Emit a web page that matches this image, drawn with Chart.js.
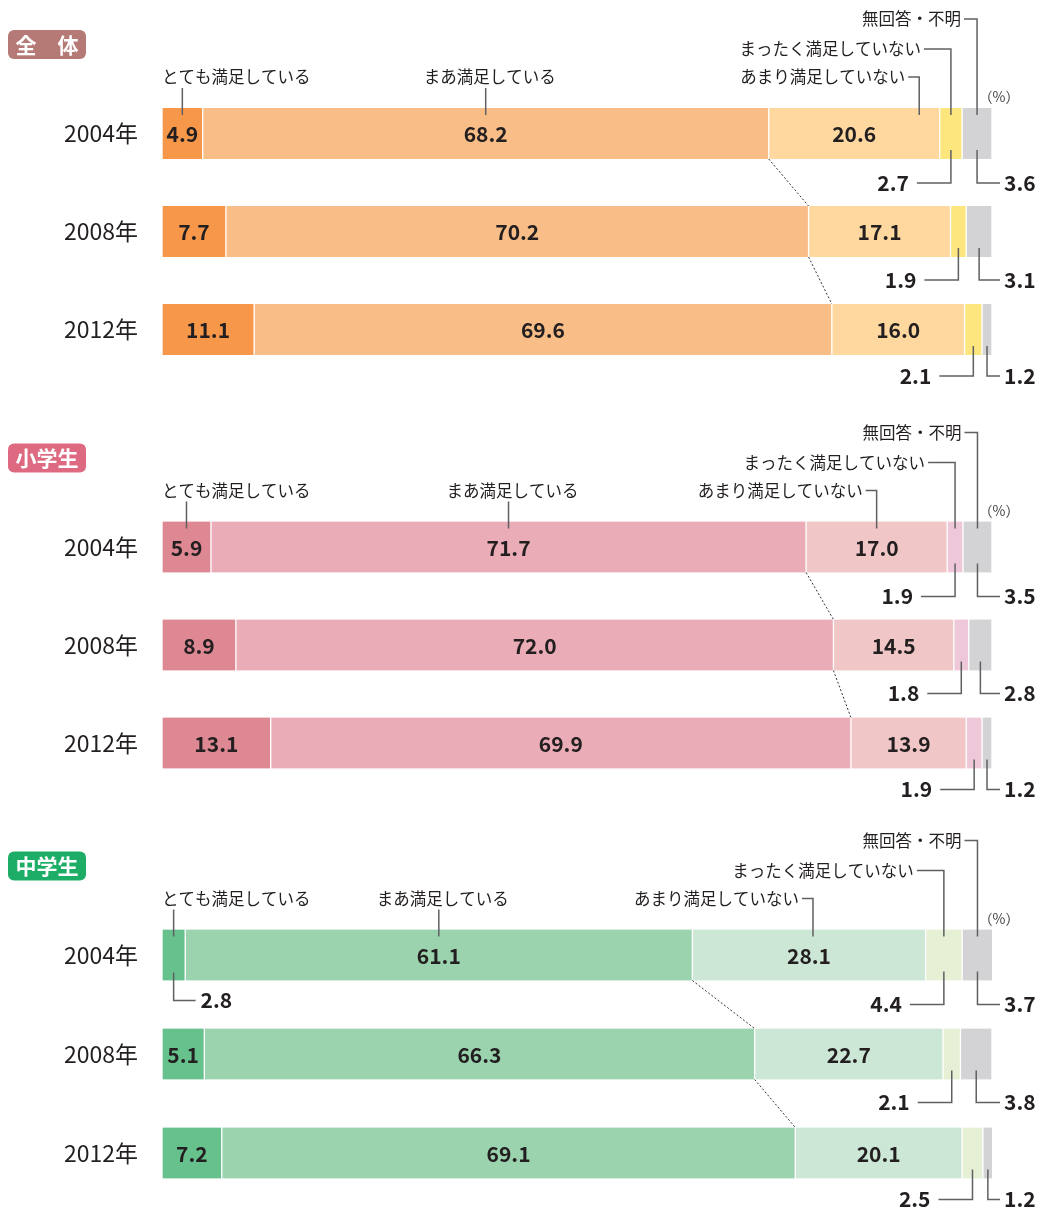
<!DOCTYPE html>
<html>
<head>
<meta charset="utf-8">
<script src="https://cdn.jsdelivr.net/npm/chart.js@4.4.1/dist/chart.umd.min.js"></script>
<style>
  body { margin: 0; background: #fff; width: 1037px; height: 1208px; position: relative; overflow: hidden; }
  .panel { position: absolute; left: 0; width: 1037px; }
</style>
</head>
<body>
<div class="panel" style="top:0px"><canvas id="c0" width="1037" height="410"></canvas></div>
<div class="panel" style="top:410px"><canvas id="c1" width="1037" height="405"></canvas></div>
<div class="panel" style="top:815px"><canvas id="c2" width="1037" height="393"></canvas></div>
<script>
// survey years and answer categories
const years = ['2004年', '2008年', '2012年'];
const categories = ['とても満足している', 'まあ満足している', 'あまり満足していない', 'まったく満足していない', '無回答・不明'];
const panelTitles = ['全　体', '小学生', '中学生'];

// 全体
const allVery = [4.9, 7.7, 11.1];
const allSomewhat = [68.2, 70.2, 69.6];
const allNotVery = [20.6, 17.1, 16.0];
const allNotAtAll = [2.7, 1.9, 2.1];
const allNoAnswer = [3.6, 3.1, 1.2];

// 小学生
const elemVery = [5.9, 8.9, 13.1];
const elemSomewhat = [71.7, 72.0, 69.9];
const elemNotVery = [17.0, 14.5, 13.9];
const elemNotAtAll = [1.9, 1.8, 1.9];
const elemNoAnswer = [3.5, 2.8, 1.2];

// 中学生
const juniorVery = [2.8, 5.1, 7.2];
const juniorSomewhat = [61.1, 66.3, 69.1];
const juniorNotVery = [28.1, 22.7, 20.1];
const juniorNotAtAll = [4.4, 2.1, 2.5];
const juniorNoAnswer = [3.7, 3.8, 1.2];

const FONT = '"Noto Sans CJK JP", "Noto Sans", sans-serif';
const TEXT = '#231f20';
const LEAD = '#5f6062';

const panels = [
    { id: 'c0', series: [allVery, allSomewhat, allNotVery, allNotAtAll, allNoAnswer],
      colors: ['#f7974a', '#f9bd87', '#fed89f', '#fde67e', '#d3d3d5'], badge: '#b67a76',
      padTop: 84.5, padBottom: 31.5, notVeryShift: 65 },
    { id: 'c1', series: [elemVery, elemSomewhat, elemNotVery, elemNotAtAll, elemNoAnswer],
      colors: ['#dd8892', '#eaacb6', '#f0c6c6', '#eec7d8', '#d3d3d5'], badge: '#dd6a80',
      padTop: 88, padBottom: 23, notVeryShift: 0 },
    { id: 'c2', series: [juniorVery, juniorSomewhat, juniorNotVery, juniorNotAtAll, juniorNoAnswer],
      colors: ['#67c18d', '#9bd3ae', '#cde7d6', '#e6f0d5', '#d3d3d5'], badge: '#1dad66',
      padTop: 90.5, padBottom: 5.5, notVeryShift: 4 }
];

// gap between bar bottom and the small value labels, per row
const belowGap = [24, 23, 21];

function line(ctx, pts) {
    ctx.beginPath();
    ctx.moveTo(pts[0][0], pts[0][1]);
    for (let i = 1; i < pts.length; i++) ctx.lineTo(pts[i][0], pts[i][1]);
    ctx.stroke();
}

// labels, leader lines, connectors and the title badge
const annot = {
    id: 'annot',
    afterDatasetsDraw(chart, args, opts) {
        const ctx = chart.ctx;
        const area = chart.chartArea;
        const seg = (d, r) => {
            const e = chart.getDatasetMeta(d).data[r];
            const p = e.getProps(['x', 'base', 'y', 'height'], true);
            return { l: Math.min(p.x, p.base), r: Math.max(p.x, p.base), c: (p.x + p.base) / 2,
                     t: p.y - p.height / 2, b: p.y + p.height / 2, y: p.y };
        };
        ctx.save();

        // badge
        const t0 = seg(0, 0).t;
        ctx.fillStyle = opts.badge;
        ctx.beginPath();
        ctx.roundRect(8, t0 - 78, 78, 29, 6);
        ctx.fill();
        ctx.fillStyle = '#fff';
        ctx.font = 'bold 21px ' + FONT;
        ctx.textAlign = 'center';
        ctx.textBaseline = 'middle';
        ctx.fillText(opts.title, 47, t0 - 63);

        // dotted connectors between "まあ満足" boundaries
        ctx.strokeStyle = '#333';
        ctx.lineWidth = 1;
        ctx.setLineDash([2, 2]);
        for (let r = 0; r < 2; r++) {
            const a = seg(1, r), b = seg(1, r + 1);
            line(ctx, [[a.r, a.b], [b.r, b.t]]);
        }
        ctx.setLineDash([]);

        // category labels above first bar
        ctx.strokeStyle = LEAD;
        ctx.lineWidth = 1.5;
        ctx.fillStyle = TEXT;
        ctx.font = '16.5px ' + FONT;
        ctx.textBaseline = 'middle';
        const s0 = seg(0, 0), s1 = seg(1, 0), s2 = seg(2, 0), s3 = seg(3, 0), s4 = seg(4, 0);
        ctx.textAlign = 'left';
        ctx.fillText(categories[0], area.left, t0 - 31);
        line(ctx, [[s0.c, t0 - 20], [s0.c, t0 + 7]]);
        ctx.textAlign = 'center';
        ctx.fillText(categories[1], s1.c + 4, t0 - 31);
        line(ctx, [[s1.c, t0 - 20], [s1.c, t0 + 7]]);
        ctx.textAlign = 'right';
        const x2 = s2.c + opts.notVeryShift;
        ctx.fillText(categories[2], x2 - 14, t0 - 31);
        line(ctx, [[x2 - 11, t0 - 31], [x2, t0 - 31], [x2, t0 + 7]]);
        ctx.fillText(categories[3], s3.c - 30, t0 - 59);
        line(ctx, [[s3.c - 27, t0 - 59], [s3.c, t0 - 59], [s3.c, t0 + 7]]);
        ctx.fillText(categories[4], s4.c - 16, t0 - 89);
        line(ctx, [[s4.c - 13, t0 - 89], [s4.c, t0 - 89], [s4.c, t0 + 7]]);
        ctx.font = '14px ' + FONT;
        ctx.fillStyle = '#444';
        ctx.textAlign = 'center';
        ctx.fillText('（%）', area.right + 7, t0 - 11);

        // value labels
        ctx.font = 'bold 21px ' + FONT;
        ctx.fillStyle = TEXT;
        chart.data.datasets.forEach((ds, d) => {
            ds.data.forEach((v, r) => {
                const s = seg(d, r);
                const txt = v.toFixed(1);
                if (d <= 2 && v >= 4) {
                    ctx.textAlign = 'center';
                    ctx.fillText(txt, s.c, s.y + 1);
                    return;
                }
                const ly = s.b + belowGap[r];
                if (d === 0) {
                    line(ctx, [[s.c, s.b - 8], [s.c, ly - 4], [s.c + 22, ly - 4]]);
                    ctx.textAlign = 'left';
                    ctx.fillText(txt, s.c + 27, ly - 4);
                } else if (d === 3) {
                    line(ctx, [[s.c - 34, ly], [s.c, ly], [s.c, s.b - 9]]);
                    ctx.textAlign = 'right';
                    ctx.fillText(txt, s.c - 42, ly);
                } else if (d === 4) {
                    line(ctx, [[s.c, s.b - 9], [s.c, ly], [area.right + 8, ly]]);
                    ctx.textAlign = 'left';
                    ctx.fillText(txt, area.right + 12, ly);
                }
            });
        });
        ctx.restore();
    }
};

panels.forEach((p, pi) => {
    new Chart(document.getElementById(p.id), {
        type: 'bar',
        data: {
            labels: years,
            datasets: categories.map((c, i) => ({
                label: c,
                data: p.series[i],
                backgroundColor: p.colors[i],
                borderColor: '#fff',
                borderWidth: { left: 1, right: 1, top: 0, bottom: 0 },
                borderSkipped: false,
                barThickness: 51
            }))
        },
        options: {
            indexAxis: 'y',
            responsive: false,
            animation: false,
            layout: { padding: { top: p.padTop, bottom: p.padBottom, left: 0, right: 45 } },
            scales: {
                x: { stacked: true, min: 0, max: 100, display: false },
                y: {
                    stacked: true,
                    grid: { display: false, drawTicks: false },
                    border: { display: false },
                    ticks: { font: { size: 23, family: FONT }, color: TEXT, padding: 24 },
                    afterFit(scale) {
                        // keep the year labels from adding vertical padding to the plot
                        scale.width = 162;
                        scale.paddingTop = 0;
                        scale.paddingBottom = 0;
                    }
                }
            },
            plugins: {
                legend: { display: false },
                tooltip: { enabled: false },
                annot: { title: panelTitles[pi], badge: p.badge, notVeryShift: p.notVeryShift }
            }
        },
        plugins: [annot]
    });
});
</script>
</body>
</html>
